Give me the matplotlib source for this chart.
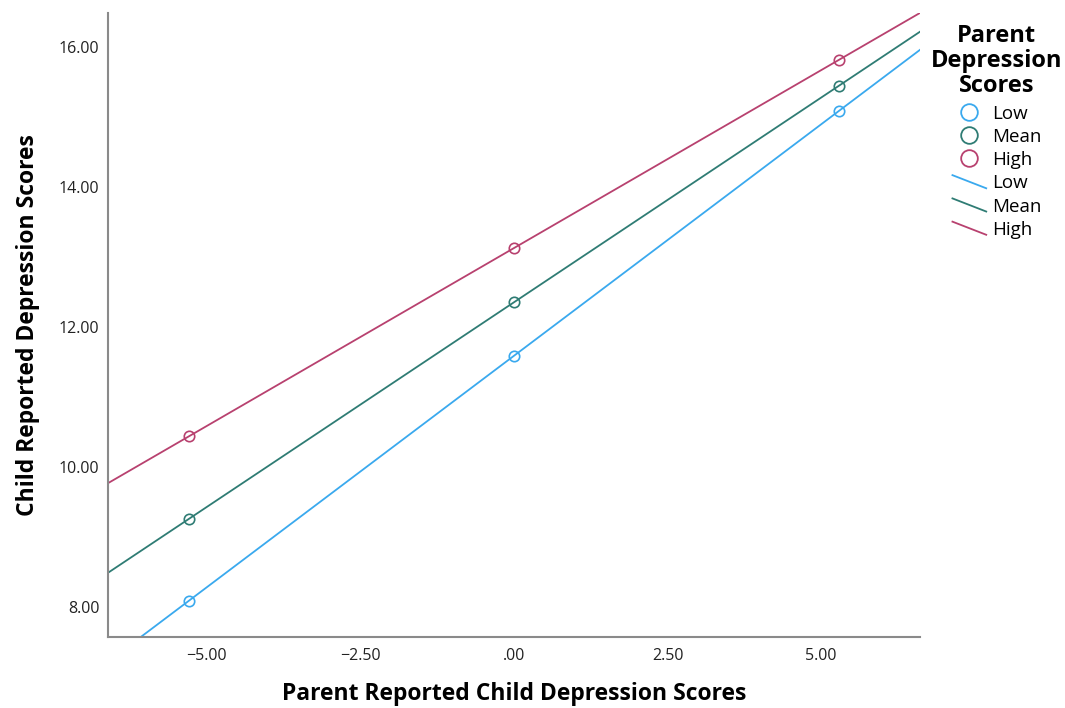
import matplotlib
matplotlib.use("Agg")
import matplotlib.pyplot as plt
from matplotlib.lines import Line2D
from matplotlib.legend_handler import HandlerBase

# simple slopes: parent reported child depression at -1 SD, mean, +1 SD
x_vals = [-5.29, 0.0, 5.29]
low_vals = [8.09, 11.59, 15.09]
mean_vals = [9.26, 12.36, 15.45]
high_vals = [10.44, 13.13, 15.82]
groups = ["Low", "Mean", "High"]
colors = {"Low": "#3AA9EE", "Mean": "#2F7C74", "High": "#B8416F"}
x_ticks = [-5.0, -2.5, 0.0, 2.5, 5.0]
x_tick_labels = ["\u22125.00", "\u22122.50", ".00", "2.50", "5.00"]
y_ticks = [8, 10, 12, 14, 16]
y_tick_labels = ["8.00", "10.00", "12.00", "14.00", "16.00"]

plt.rcParams['font.family'] = ['Open Sans', 'DejaVu Sans']


class DiagHandler(HandlerBase):
    # legend line drawn going down to the right, like SPSS
    def create_artists(self, legend, orig_handle, xdescent, ydescent,
                       width, height, fontsize, trans):
        ln = Line2D([-xdescent, -xdescent + width], [height * 1.0, -ydescent],
                    color=orig_handle.get_color(), lw=orig_handle.get_linewidth())
        ln.set_transform(trans)
        return [ln]


fig = plt.figure(figsize=(10.65, 7.08), dpi=100)
ax = fig.add_axes([0.1014, 0.1003, 0.7624, 0.8813])

series = {"Low": low_vals, "Mean": mean_vals, "High": high_vals}
for g in groups:
    ys = series[g]
    ax.axline((x_vals[0], ys[0]), (x_vals[2], ys[2]), color=colors[g], lw=1.3)
    ax.plot(x_vals, ys, linestyle="none", marker="o", markersize=7.5,
            markerfacecolor="none", markeredgecolor=colors[g], markeredgewidth=1.2)

ax.set_xlim(-6.61, 6.61)
ax.set_ylim(7.57, 16.49)
ax.set_xticks(x_ticks)
ax.set_xticklabels(x_tick_labels)
ax.set_yticks(y_ticks)
ax.set_yticklabels(y_tick_labels)
ax.tick_params(length=0, labelsize=11.5, colors="#222222")
ax.tick_params(axis="x", pad=8)
ax.tick_params(axis="y", pad=6)
for s in ["top", "right"]:
    ax.spines[s].set_visible(False)
for s in ["left", "bottom"]:
    ax.spines[s].set_color("#8a8a8a")
    ax.spines[s].set_linewidth(1.5)

ax.set_xlabel("Parent Reported Child Depression Scores", fontsize=16.5, fontweight="bold", labelpad=13)
ax.set_ylabel("Child Reported Depression Scores", fontsize=16.5, fontweight="bold", labelpad=14)

marker_handles = [Line2D([], [], linestyle="none", marker="o", markersize=12,
                         markerfacecolor="none", markeredgecolor=colors[g], markeredgewidth=1.3)
                  for g in groups]
line_handles = [Line2D([], [], color=colors[g], lw=1.3) for g in groups]

leg = fig.legend(marker_handles + line_handles, groups + groups,
                 loc="upper center", bbox_to_anchor=(0.936, 0.977),
                 frameon=False, fontsize=13.5, title="Parent\nDepression\nScores",
                 title_fontproperties={"weight": "bold", "size": 17},
                 handlelength=1.8, handletextpad=0.3, labelspacing=0.28,
                 borderaxespad=0, handler_map={line_handles[0]: DiagHandler(),
                                               line_handles[1]: DiagHandler(),
                                               line_handles[2]: DiagHandler()})
leg.get_title().set_multialignment("center")
leg.get_title().set_linespacing(1.05)
leg._legend_box.sep = 5

fig.savefig("out.png", dpi=100)
